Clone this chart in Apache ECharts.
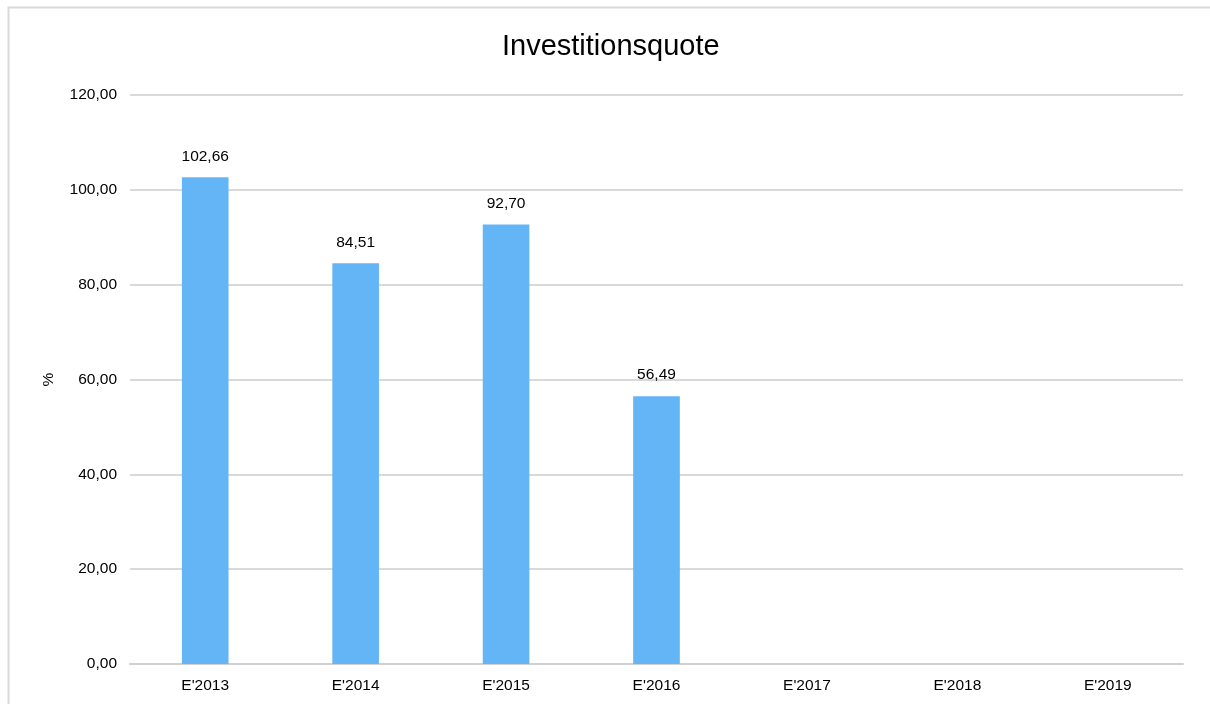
<!DOCTYPE html>
<html>
<head>
<meta charset="utf-8">
<script src="https://cdn.jsdelivr.net/npm/echarts@6/dist/echarts.min.js"></script>
<style>
  html, body { margin: 0; padding: 0; background: #fff; }
  #main { width: 1210px; height: 704px; }
</style>
</head>
<body>
<div id="main"></div>
<script>
var categories = ["E'2013", "E'2014", "E'2015", "E'2016", "E'2017", "E'2018", "E'2019"];
var quote = [102.66, 84.51, 92.70, 56.49, null, null, null];

function fmt(v) {
    return v.toFixed(2).replace('.', ',');
}

var myChart = echarts.init(document.getElementById('main'));
var option = {
    animation: false,
    textStyle: { fontFamily: 'Liberation Sans, Arial, sans-serif' },
    title: {
        text: 'Investitionsquote',
        left: 497,
        top: 27,
        textStyle: { fontSize: 29, fontWeight: 'normal', color: '#000' }
    },
    graphic: [{
        type: 'rect',
        shape: { x: 8.5, y: 7.5, width: 1300, height: 800 },
        style: { fill: 'none', stroke: '#d9d9d9', lineWidth: 2 },
        silent: true
    }],
    grid: { left: 130, right: 27, top: 95, bottom: 40 },
    xAxis: {
        type: 'category',
        data: categories,
        axisTick: { show: false },
        axisLine: { lineStyle: { color: '#d0d0d0', width: 2 } },
        axisLabel: { color: '#000', fontSize: 15.5, margin: 14 }
    },
    yAxis: {
        type: 'value',
        min: 0,
        max: 120,
        interval: 20,
        name: '%',
        nameLocation: 'middle',
        nameGap: 73,
        nameRotate: 90,
        nameTextStyle: { color: '#000', fontSize: 15.5 },
        axisLine: { show: false },
        axisTick: { show: false },
        axisLabel: { color: '#000', fontSize: 15.5, margin: 13, formatter: fmt },
        splitLine: { lineStyle: { color: '#d9d9d9', width: 2 } }
    },
    series: [{
        type: 'bar',
        data: quote,
        barWidth: '31%',
        itemStyle: { color: '#64b5f6' },
        label: {
            show: true,
            position: 'top',
            distance: 13,
            color: '#000',
            fontSize: 15.5,
            formatter: function (p) { return fmt(p.value); }
        }
    }]
};
myChart.setOption(option, true);
</script>
</body>
</html>
